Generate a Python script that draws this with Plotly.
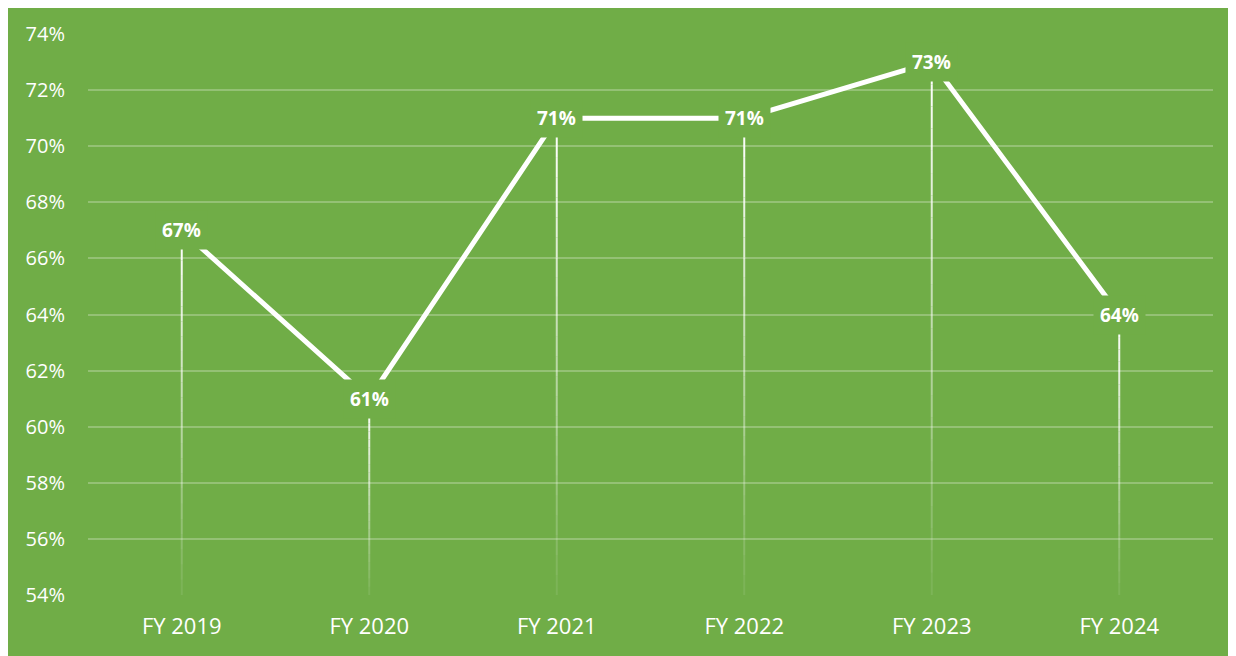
import plotly.graph_objects as go

years = ["FY 2019", "FY 2020", "FY 2021", "FY 2022", "FY 2023", "FY 2024"]
share = [67, 61, 71, 71, 73, 64]
labels = ["67%", "61%", "71%", "71%", "73%", "64%"]
y_ticks = [54, 56, 58, 60, 62, 64, 66, 68, 70, 72, 74]

green = "#70AD47"
base = 54

fig = go.Figure()

# drop lines fading from the point down to the axis
steps = 24
for k in range(steps):
    xs, ys = [], []
    for yr, v in zip(years, share):
        top = v - (v - base) * k / steps
        bot = v - (v - base) * (k + 1) / steps
        xs += [yr, yr, None]
        ys += [top, bot, None]
    alpha = 1 - 0.95 * k / steps
    fig.add_trace(go.Scatter(x=xs, y=ys, mode="lines",
                             line=dict(color="rgba(255,255,255,%.3f)" % alpha, width=2),
                             hoverinfo="skip", showlegend=False))

fig.add_trace(go.Scatter(x=years, y=share, mode="lines",
                         line=dict(color="white", width=5),
                         showlegend=False))

for yr, v, t in zip(years, share, labels):
    fig.add_annotation(x=yr, y=v, text="<b>%s</b>" % t, showarrow=False,
                       font=dict(family="Open Sans", size=19, color="white"),
                       bgcolor=green, borderpad=6)

# page body adds 8px; figure is sized so the plot area lands where it should
fig.update_layout(
    width=1228, height=648,
    margin=dict(l=80, r=23, t=22, b=61),
    paper_bgcolor=green,
    plot_bgcolor=green,
    font=dict(family="Open Sans", color="white", size=20),
)
fig.update_xaxes(type="category", range=[-0.5, 5.5], showgrid=False,
                 zeroline=False, showline=False, ticks="",
                 ticklabelstandoff=16, tickfont=dict(size=22))
fig.update_yaxes(range=[base, 74], tickvals=y_ticks,
                 ticktext=["%d%%" % v for v in y_ticks],
                 showgrid=True, gridcolor="rgba(255,255,255,0.25)", gridwidth=2,
                 zeroline=False, showline=False, ticks="",
                 ticklabelstandoff=22, tickfont=dict(size=20))

fig.write_html("out.html")
